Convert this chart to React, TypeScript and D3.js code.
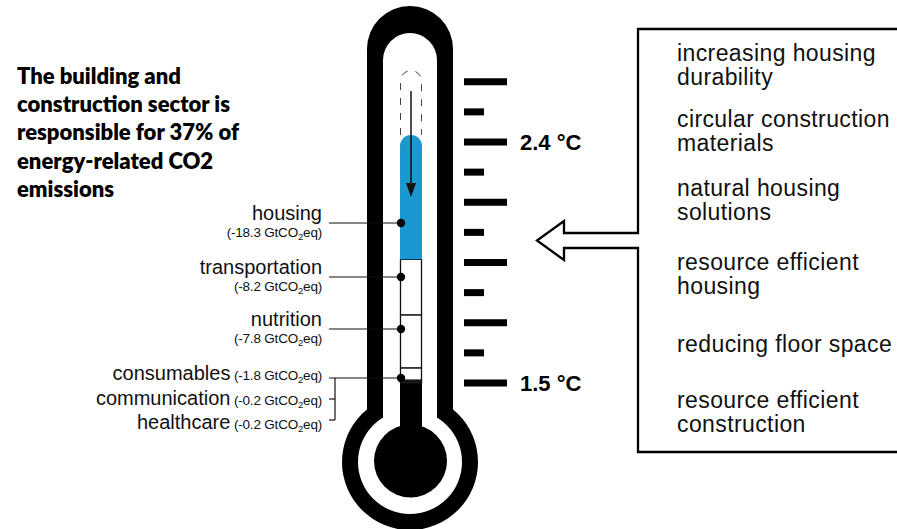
import React from "react";
import * as d3 from "d3";

// emission reductions per sector (GtCO2eq)
const categories = ["housing", "transportation", "nutrition", "consumables", "communication", "healthcare"];
const reductions = [18.3, 8.2, 7.8, 1.8, 0.2, 0.2];

// temperature scale on the thermometer
const tempLabels = [2.4, 1.5];
const tickCount = 11;

const titleLines = [
  "The building and",
  "construction sector is",
  "responsible for 37% of",
  "energy-related CO2",
  "emissions",
];

const measures = [
  ["increasing housing", "durability"],
  ["circular construction", "materials"],
  ["natural housing", "solutions"],
  ["resource efficient", "housing"],
  ["reducing floor space"],
  ["resource efficient", "construction"],
];

const W = 897;
const H = 529;
const CX = 411;
const BLUE = "#1b98d0";
const SANS = "'Liberation Sans', Arial, sans-serif";

// where the leader lines of each label hit the tube
const leaderY = [223, 277, 329, 378, 399, 420];
const measureY = [61, 127, 196, 270, 352, 408];

export default function App() {
  const total = d3.sum(reductions);
  const stack = d3.scaleLinear().domain([0, total]).range([383, 135]);
  const cum = d3.cumsum(reductions);
  const segs = reductions.map((v, i) => ({
    name: categories[i],
    v,
    top: stack(total - (cum[i] - v)),
    bottom: stack(total - cum[i]),
  }));

  const tempScale = d3.scaleLinear().domain([1.5, 2.4]).range([383, 142]);
  const step = (2.4 - 1.5) / 8;
  const ticks = d3.range(tickCount).map((i) => ({ t: 1.5 + i * step, long: i % 2 === 0 }));

  const tubeL = 400, tubeR = 422, r = 11;
  const blue = segs[0];
  const bluePath = `M${tubeL},${blue.top + r} A${r},${r} 0 0 1 ${tubeR},${blue.top + r} V${blue.bottom} H${tubeL} Z`;

  const sub = (v: number) => (
    <>
      {`(-${v.toFixed(1)} GtCO`}
      <tspan fontSize={9.5} dy={3}>2</tspan>
      <tspan dy={-3}>eq)</tspan>
    </>
  );

  return (
    <svg width={W} height={H} style={{ position: "absolute", left: 0, top: 0, background: "#fff" }}>
      {/* title */}
      <g fontFamily="Lato, sans-serif" fontWeight={800} fontSize={22} fill="#000">
        {titleLines.map((l, i) => (
          <text key={i} x={17} y={84 + i * 28.2}>{l}</text>
        ))}
      </g>

      {/* thermometer body */}
      <path d={`M367,49 A43,43 0 0 1 453,49 V440 H367 Z`} fill="#000" />
      <circle cx={410} cy={462} r={68} fill="#000" />
      <path d={`M383,60 A27,27 0 0 1 437,60 V440 H383 Z`} fill="#fff" />
      <circle cx={410} cy={462} r={52} fill="#fff" />
      <rect x={tubeL} y={383} width={tubeR - tubeL} height={60} fill="#000" />
      <circle cx={410.5} cy={461} r={36.5} fill="#000" />

      {/* dashed empty part */}
      <path
        d={`M${tubeL + 0.5},${blue.top} V${70 + r} A${r - 0.5},${r - 0.5} 0 0 1 ${tubeR - 0.5},${70 + r} V${blue.top}`}
        fill="none"
        stroke="#444"
        strokeWidth={1}
        strokeDasharray="7 8"
      />

      {/* segments */}
      {segs.slice(1).map((s) => (
        <rect key={s.name} x={tubeL + 0.5} y={s.top} width={tubeR - tubeL - 1} height={s.bottom - s.top} fill="#fff" stroke="#111" strokeWidth={1.3} />
      ))}
      <path d={bluePath} fill={BLUE} />

      {/* arrow down */}
      <line x1={CX} y1={91} x2={CX} y2={186} stroke="#111" strokeWidth={1.5} />
      <path d={`M${CX - 5},${183} L${CX + 5},${183} L${CX},${197} Z`} fill="#111" />

      {/* ticks */}
      {ticks.map((d, i) => (
        <rect key={i} x={464} y={tempScale(d.t) - 3.5} width={d.long ? 43 : 20} height={7} fill="#000" />
      ))}
      {tempLabels.map((t) => (
        <text key={t} x={520} y={tempScale(t) + 7.5} fontFamily={SANS} fontWeight={700} fontSize={22} fill="#000">
          {`${t} °C`}
        </text>
      ))}

      {/* leaders & labels */}
      <g stroke="#111" strokeWidth={1.2}>
        {[0, 1, 2, 3].map((i) => (
          <line key={i} x1={329} x2={401} y1={leaderY[i]} y2={leaderY[i]} />
        ))}
        <line x1={335} x2={335} y1={leaderY[3]} y2={leaderY[5]} />
        <line x1={329} x2={335} y1={leaderY[4]} y2={leaderY[4]} />
        <line x1={329} x2={335} y1={leaderY[5]} y2={leaderY[5]} />
      </g>
      {[0, 1, 2, 3].map((i) => (
        <circle key={i} cx={401} cy={leaderY[i]} r={4.2} fill="#000" />
      ))}
      <g fontFamily={SANS} fill="#111" textAnchor="end">
        {[0, 1, 2].map((i) => (
          <g key={i}>
            <text x={322} y={leaderY[i] - 3} fontSize={20}>{categories[i]}</text>
            <text x={322} y={leaderY[i] + 14} fontSize={13.5} letterSpacing={-0.2}>{sub(reductions[i])}</text>
          </g>
        ))}
        {[3, 4, 5].map((i, k) => (
          <text key={i} x={322} y={380 + k * 24.5} fontSize={20}>
            {categories[i]}
            <tspan fontSize={13.5} letterSpacing={-0.2}> {sub(reductions[i])}</tspan>
          </text>
        ))}
      </g>

      {/* box with hollow arrow */}
      <path
        d="M900,29 H638 V233 H564 V221 L537,240.5 L564,260 V248 H638 V452 H900"
        fill="none"
        stroke="#000"
        strokeWidth={2.3}
        strokeLinejoin="miter"
      />
      <g fontFamily={SANS} fontSize={23} letterSpacing={0.4} fill="#111">
        {measures.map((m, i) =>
          m.map((line, j) => (
            <text key={`${i}-${j}`} x={677} y={measureY[i] + j * 24}>{line}</text>
          ))
        )}
      </g>
    </svg>
  );
}
